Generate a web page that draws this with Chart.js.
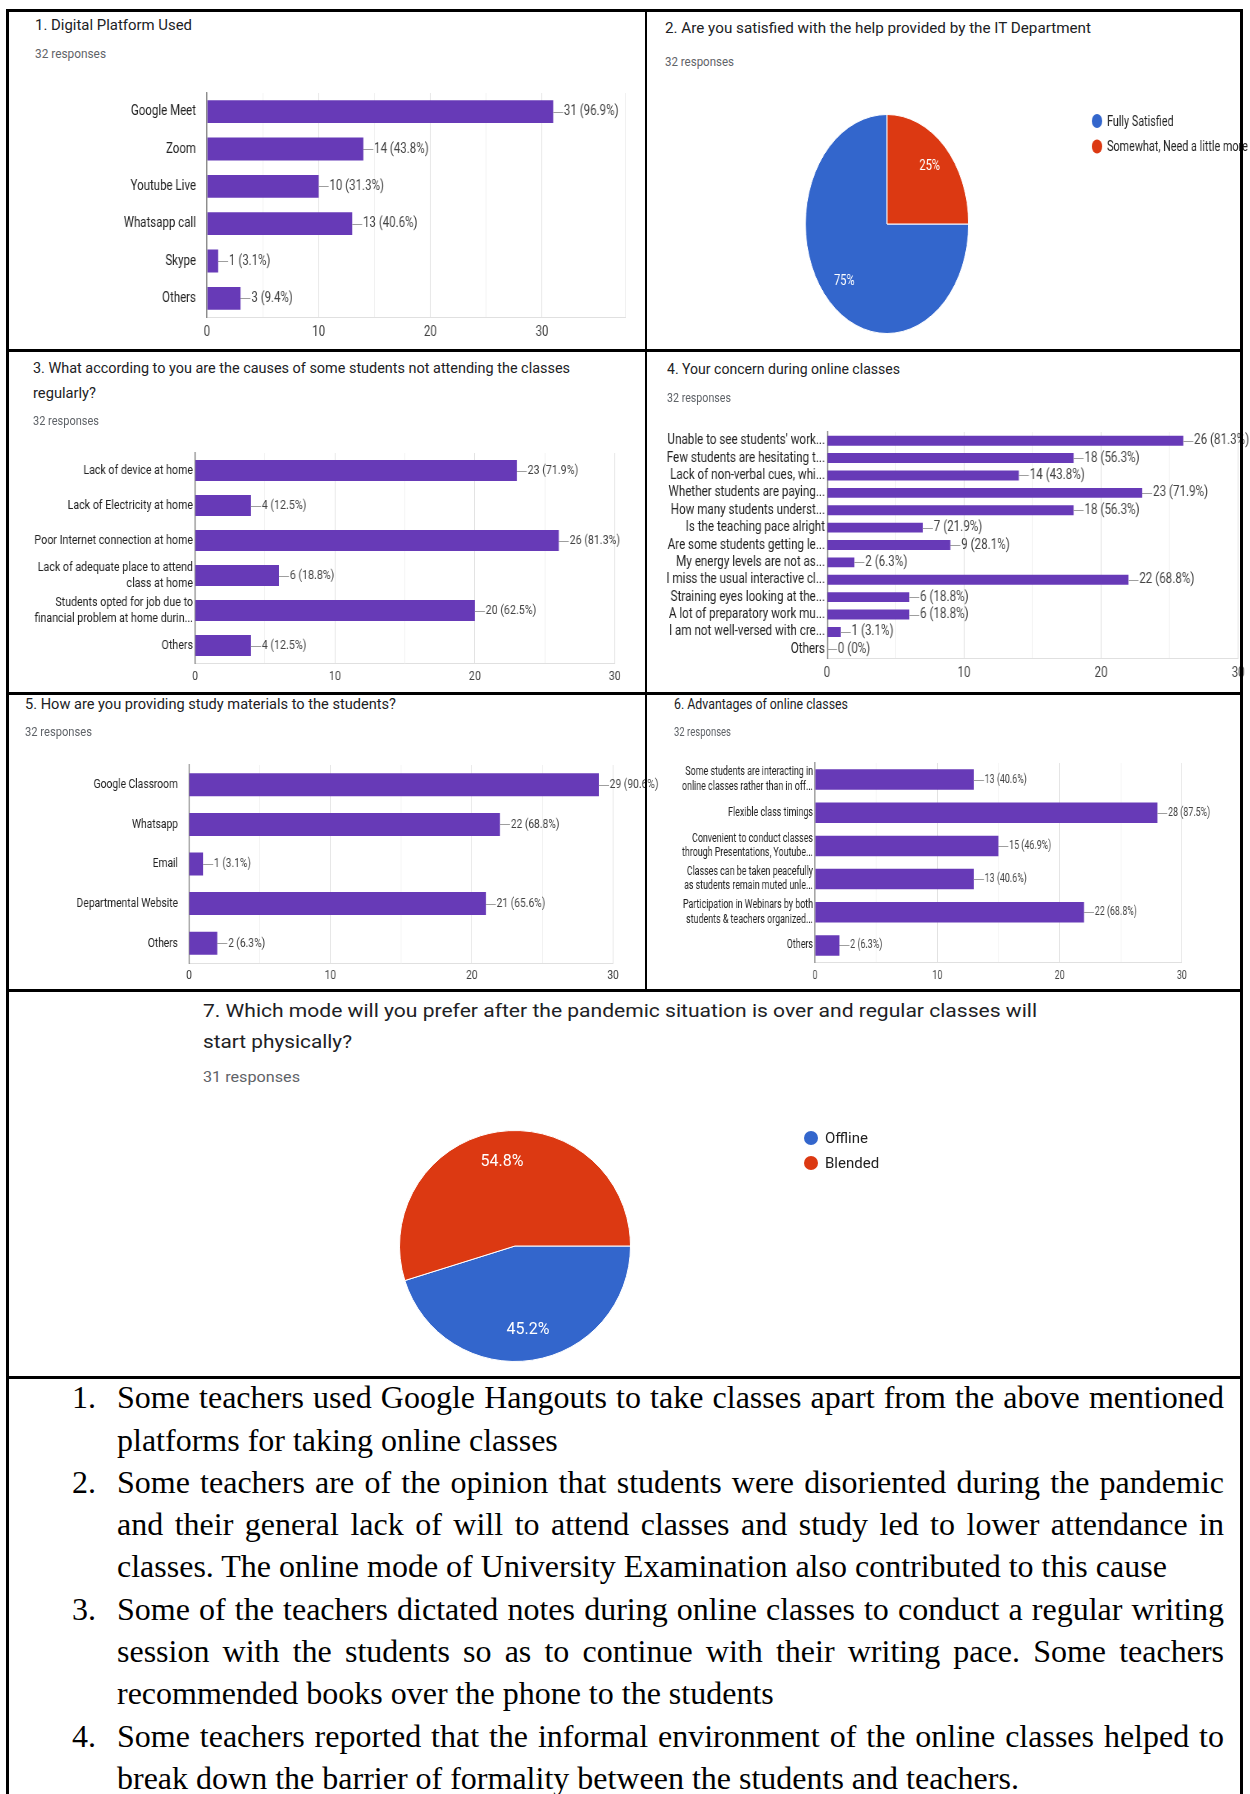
<!DOCTYPE html>
<html>
<head>
<meta charset="utf-8">
<script src="https://cdn.jsdelivr.net/npm/chart.js@4.4.1/dist/chart.umd.min.js"></script>
<style>
  html, body { margin: 0; padding: 0; background: #fff; }
  body { position: relative; width: 1250px; height: 1794px; overflow: hidden; font-family: Roboto, Arial, sans-serif; }
  canvas { position: absolute; transform-origin: 0 0; }
  .rule { position: absolute; background: #000; z-index: 5; }
  .txt { position: absolute; white-space: nowrap; line-height: 1; transform-origin: 0 0; }
  .note { position: absolute; white-space: nowrap; line-height: 1; color: #000;
          font-family: 'Liberation Serif', 'Times New Roman', serif; font-size: 32px; }
</style>
</head>
<body>
<script>
// ---- survey answers ----
const platformLabels = ['Google Meet', 'Zoom', 'Youtube Live', 'Whatsapp call', 'Skype', 'Others'];
const platformCounts = [31, 14, 10, 13, 1, 3];

const itHelpLabels = ['Fully Satisfied', 'Somewhat, Need a little more'];
const itHelpCounts = [24, 8];

const absenceLabels = ['Lack of device at home', 'Lack of Electricity at home', 'Poor Internet connection at home',
  ['Lack of adequate place to attend', 'class at home'],
  ['Students opted for job due to', 'financial problem at home durin...'], 'Others'];
const absenceCounts = [23, 4, 26, 6, 20, 4];

const concernLabels = ["Unable to see students' work...", 'Few students are hesitating t...', 'Lack of non-verbal cues, whi...',
  'Whether students are paying...', 'How many students underst...', 'Is the teaching pace alright',
  'Are some students getting le...', 'My energy levels are not as...', 'I miss the usual interactive cl...',
  'Straining eyes looking at the...', 'A lot of preparatory work mu...', 'I am not well-versed with cre...', 'Others'];
const concernCounts = [26, 18, 14, 23, 18, 7, 9, 2, 22, 6, 6, 1, 0];

const materialLabels = ['Google Classroom', 'Whatsapp', 'Email', 'Departmental Website', 'Others'];
const materialCounts = [29, 22, 1, 21, 2];

const advantageLabels = [['Some students are interacting in', 'online classes rather than in off...'], 'Flexible class timings',
  ['Convenient to conduct classes', 'through Presentations, Youtube...'],
  ['Classes can be taken peacefully', 'as students remain muted unle...'],
  ['Participation in Webinars by both', 'students & teachers organized...'], 'Others'];
const advantageCounts = [13, 28, 15, 13, 22, 2];

const modeLabels = ['Offline', 'Blended'];
const modeCounts = [14, 17];

const respondents = 32;

const headings = [
  // text, x, baseline, size, width, colour
  ['1. Digital Platform Used', 35, 31, 15, 157, '#202124'],
  ['32 responses', 35, 59, 12.5, 71, '#5f6368'],
  ['2. Are you satisfied with the help provided by the IT Department', 665, 34, 15, 426, '#202124'],
  ['32 responses', 665, 67, 12.5, 69, '#5f6368'],
  ['3. What according to you are the causes of some students not attending the classes', 33, 374, 15, 537, '#202124'],
  ['regularly?', 33, 399, 15, 63, '#202124'],
  ['32 responses', 33, 426, 12.5, 66, '#5f6368'],
  ['4. Your concern during online classes', 667, 375, 15, 233, '#202124'],
  ['32 responses', 667, 402, 12, 64, '#5f6368'],
  ['5. How are you providing study materials to the students?', 25, 710, 15, 371, '#202124'],
  ['32 responses', 25, 736, 12, 67, '#5f6368'],
  ['6. Advantages of online classes', 674, 710, 15, 174, '#202124'],
  ['32 responses', 674, 736, 12, 57, '#5f6368'],
  ['7. Which mode will you prefer after the pandemic situation is over and regular classes will', 203, 1018, 17.5, 834, '#202124'],
  ['start physically?', 203, 1049, 17.5, 149, '#202124'],
  ['31 responses', 203, 1082, 14, 97, '#5f6368'],
];

const noteLines = [
  ['1.', 'Some teachers used Google Hangouts to take classes apart from the above mentioned', true],
  ['', 'platforms for taking online classes', false],
  ['2.', 'Some teachers are of the opinion that students were disoriented during the pandemic', true],
  ['', 'and their general lack of will to attend classes and study led to lower attendance in', true],
  ['', 'classes. The online mode of University Examination also contributed to this cause', false],
  ['3.', 'Some of the teachers dictated notes during online classes to conduct a regular writing', true],
  ['', 'session with the students so as to continue with their writing pace. Some teachers', true],
  ['', 'recommended books over the phone to the students', false],
  ['4.', 'Some teachers reported that the informal environment of the online classes helped to', true],
  ['', 'break down the barrier of formality between the students and teachers.', false],
];

// table rules: x, y, w, h
const rules = [
  [6, 9, 1237, 3], [6, 9, 3, 1785], [1240, 9, 3, 1785], [645, 9, 2, 982],
  [6, 349, 1237, 3], [6, 692, 1237, 3], [6, 989, 1237, 3], [6, 1376, 1237, 3],
];

Chart.defaults.font.family = 'Roboto, Arial, sans-serif';

const valueLabels = {
  id: 'valueLabels',
  afterDatasetsDraw(chart, args, opts) {
    const ctx = chart.ctx;
    const vals = chart.data.datasets[0].data;
    ctx.save();
    ctx.font = `${opts.size}px Roboto, Arial, sans-serif`;
    ctx.textBaseline = 'middle';
    ctx.strokeStyle = '#9e9e9e';
    ctx.fillStyle = '#444';
    ctx.lineWidth = 1;
    chart.getDatasetMeta(0).data.forEach((bar, i) => {
      const pct = +(vals[i] / opts.total * 100).toFixed(1);
      ctx.beginPath();
      ctx.moveTo(bar.x, Math.round(bar.y) + 0.5);
      ctx.lineTo(bar.x + opts.line, Math.round(bar.y) + 0.5);
      ctx.stroke();
      ctx.fillText(`${vals[i]} (${pct}%)`, bar.x + opts.line + 1, bar.y);
    });
    ctx.restore();
  }
};

const pieText = {
  id: 'pieText',
  afterDatasetsDraw(chart, args, opts) {
    const ctx = chart.ctx;
    const ds = chart.data.datasets[0];
    const sum = ds.data.reduce((a, b) => a + b, 0);
    ctx.save();
    ctx.font = `${opts.size}px Roboto, Arial, sans-serif`;
    ctx.fillStyle = '#fff';
    ctx.textAlign = 'center';
    ctx.textBaseline = 'middle';
    chart.getDatasetMeta(0).data.forEach((arc, i) => {
      const mid = (arc.startAngle + arc.endAngle) / 2;
      const r = arc.outerRadius * opts.at;
      ctx.fillText(`${+(ds.data[i] / sum * 100).toFixed(1)}%`, arc.x + Math.cos(mid) * r, arc.y + Math.sin(mid) * r);
    });
    // legend
    ctx.font = `${opts.legendSize}px Roboto, Arial, sans-serif`;
    ctx.textAlign = 'left';
    chart.data.labels.forEach((lab, i) => {
      const y = opts.y + i * opts.gap;
      ctx.fillStyle = ds.backgroundColor[i];
      ctx.beginPath();
      ctx.arc(opts.x, y, opts.dot, 0, Math.PI * 2);
      ctx.fill();
      ctx.fillStyle = '#222';
      ctx.fillText(lab, opts.textX, y + 1);
    });
    ctx.restore();
  }
};

function addCanvas(left, top, w, h, k) {
  const cv = document.createElement('canvas');
  cv.width = w;
  cv.height = h;
  cv.style.cssText = `left:${left}px;top:${top}px;width:${w}px;height:${h}px;transform:scaleX(${k})`;
  document.body.appendChild(cv);
  return cv;
}

function barChart(labels, counts, box) {
  const k = box.k;
  // leave room above the plot: Chart.js pads the category axis by half a label plus tick padding
  const top = box.plotTop - 30;
  const w = Math.round((box.right - box.left) / k);
  const h = box.bottom - top;
  const cv = addCanvas(box.left, top, w, h, k);
  const yAxisW = (box.plotLeft - box.left) / k;
  const xAxisH = box.bottom - box.plotBottom;
  return new Chart(cv, {
    type: 'bar',
    data: {
      labels: labels,
      datasets: [{ data: counts, backgroundColor: '#673ab7', barPercentage: box.bar, categoryPercentage: 1 }]
    },
    options: {
      indexAxis: 'y',
      responsive: false,
      animation: false,
      devicePixelRatio: 1,
      layout: { padding: { left: 0, top: box.plotTop - top, right: (box.right - box.plotRight) / k, bottom: 0 } },
      plugins: {
        legend: { display: false },
        tooltip: { enabled: false },
        valueLabels: { total: respondents, size: box.font, line: 10 / k }
      },
      scales: {
        x: {
          min: 0,
          max: box.max,
          afterFit: (s) => { s.height = xAxisH; },
          grid: {
            drawTicks: false,
            color: (c) => (c.tick && c.tick.value % 10 === 0) ? '#e2e2e2' : '#f1f1f1'
          },
          border: { color: '#e0e0e0' },
          ticks: {
            stepSize: 5,
            autoSkip: false,
            maxRotation: 0,
            padding: box.tickY - box.plotBottom - box.font * 0.6,
            color: '#444',
            font: { size: box.font },
            callback: (v) => v % 10 === 0 ? v : ''
          }
        },
        y: {
          afterFit: (s) => { s.width = yAxisW; },
          grid: { display: false, drawTicks: false },
          border: { color: '#888', width: 1.5 },
          ticks: { autoSkip: false, padding: box.labelGap / k, color: '#222', font: { size: box.font, lineHeight: 1.22 } }
        }
      }
    },
    plugins: [valueLabels]
  });
}

function pieChart(labels, counts, box) {
  const k = box.k;
  const w = Math.round((box.right - box.left) / k);
  const h = box.bottom - box.top;
  const cv = addCanvas(box.left, box.top, w, h, k);
  const cx = (box.cx - box.left) / k;
  const cy = box.cy - box.top;
  return new Chart(cv, {
    type: 'pie',
    data: {
      labels: labels,
      datasets: [{ data: counts, backgroundColor: ['#3366cc', '#dc3912'], borderColor: '#fff', borderWidth: 1 }]
    },
    options: {
      responsive: false,
      animation: false,
      devicePixelRatio: 1,
      rotation: 90,
      layout: { padding: { left: cx - box.r, top: cy - box.r, right: w - cx - box.r, bottom: h - cy - box.r } },
      plugins: {
        legend: { display: false },
        tooltip: { enabled: false },
        pieText: {
          size: box.font, at: 0.74,
          x: (box.legendX - box.left) / k, y: box.legendY - box.top, gap: box.legendGap, dot: 7,
          textX: (box.textX - box.left) / k, legendSize: box.legendSize
        }
      }
    },
    plugins: [pieText]
  });
}

// ---- charts ----
barChart(platformLabels, platformCounts, { left: 10, right: 640, bottom: 346, plotLeft: 207, plotRight: 626, plotTop: 93, plotBottom: 317, tickY: 332, labelGap: 11, max: 37.5, bar: 0.61, font: 14, k: 0.82 });
pieChart(itHelpLabels, itHelpCounts, { left: 650, top: 70, right: 1250, bottom: 345, cx: 887, cy: 224, r: 110, k: 0.745, font: 15, legendX: 1097, legendY: 121, legendGap: 25.5, textX: 1107, legendSize: 14.5 });
barChart(absenceLabels, absenceCounts, { left: 10, right: 640, bottom: 690, plotLeft: 195, plotRight: 615, plotTop: 453, plotBottom: 663, tickY: 677, labelGap: 2, max: 30, bar: 0.6, font: 13, k: 0.82 });
barChart(concernLabels, concernCounts, { left: 650, right: 1250, bottom: 690, plotLeft: 827, plotRight: 1239, plotTop: 432, plotBottom: 658, tickY: 673, labelGap: 2, max: 30, bar: 0.57, font: 14, k: 0.83 });
barChart(materialLabels, materialCounts, { left: 10, right: 700, bottom: 988, plotLeft: 189, plotRight: 613, plotTop: 765, plotBottom: 963, tickY: 976, labelGap: 11, max: 30, bar: 0.58, font: 13.5, k: 0.76 });
barChart(advantageLabels, advantageCounts, { left: 650, right: 1240, bottom: 988, plotLeft: 815, plotRight: 1182, plotTop: 763, plotBottom: 962, tickY: 976, labelGap: 2, max: 30, bar: 0.62, font: 12, k: 0.74 });
pieChart(modeLabels, modeCounts, { left: 12, top: 1095, right: 1236, bottom: 1375, cx: 515, cy: 1246, r: 116, k: 1, font: 16, legendX: 811, legendY: 1138, legendGap: 25, textX: 825, legendSize: 15 });

// ---- headings ----
headings.forEach(([str, x, base, size, width, color]) => {
  const d = document.createElement('div');
  d.className = 'txt';
  d.textContent = str;
  d.style.left = x + 'px';
  d.style.top = (base - 0.842 * size) + 'px';
  d.style.fontSize = size + 'px';
  d.style.color = color;
  document.body.appendChild(d);
  d.style.transform = `scaleX(${width / d.getBoundingClientRect().width})`;
});

// ---- notes under the table ----
noteLines.forEach(([num, str, full], i) => {
  const top = 1408 + i * 42.3 - 0.8375 * 32;
  if (num) {
    const n = document.createElement('div');
    n.className = 'note';
    n.textContent = num;
    n.style.left = '72px';
    n.style.top = top + 'px';
    document.body.appendChild(n);
  }
  const d = document.createElement('div');
  d.className = 'note';
  d.textContent = str;
  d.style.left = '117px';
  d.style.top = top + 'px';
  document.body.appendChild(d);
  if (full) {
    const gaps = str.split(' ').length - 1;
    const spare = 1107 - d.getBoundingClientRect().width;
    d.style.wordSpacing = (spare / gaps) + 'px';
  }
});

rules.forEach(([x, y, w, h]) => {
  const r = document.createElement('div');
  r.className = 'rule';
  r.style.cssText = `left:${x}px;top:${y}px;width:${w}px;height:${h}px`;
  document.body.appendChild(r);
});
</script>
</body>
</html>
